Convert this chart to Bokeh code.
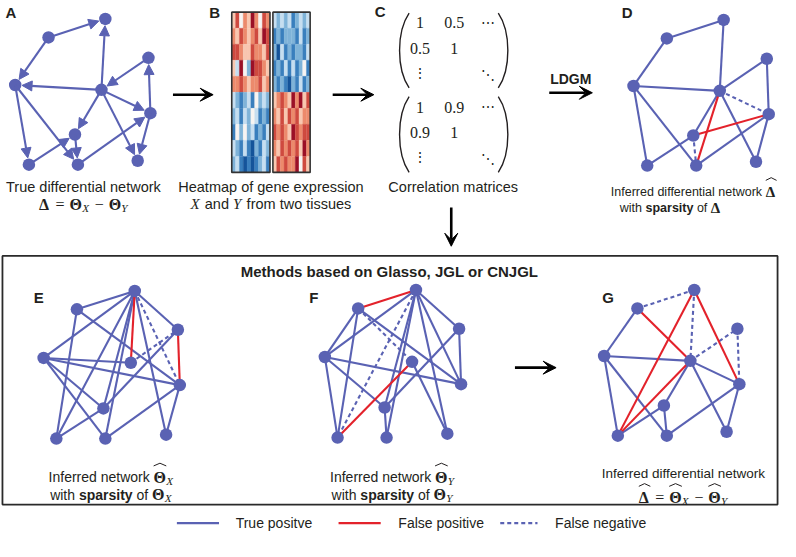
import numpy as np
from bokeh.plotting import figure
from bokeh.models import Range1d, Arrow, NormalHead, VeeHead, ColumnDataSource
from bokeh.core.properties import value
from bokeh.embed import file_html
from bokeh.resources import INLINE

# ------------------------------------------------------------------ data
# node layout shared by panels A, D, G (true network / LDGM / differential)
NET1_X = [107, 49, 15, 103, 151, 153, 76, 29, 79, 140]
NET1_Y = [19, 38, 87, 92, 59, 116, 138, 169, 169, 165]
# node layout shared by panels E, F (single-network estimates)
NET2_X = [137, 78, 44, 133, 181, 183, 105, 57, 107, 169]
NET2_Y = [299, 318, 368, 373, 339, 396, 420, 451, 451, 447]

# panel A: directed edges of the true differential network (from, to)
A_ARCS = [(2, 1), (2, 3), (4, 1), (4, 3), (5, 4), (4, 6), (4, 7), (4, 10),
          (6, 5), (6, 10), (3, 8), (3, 9), (8, 7), (7, 9), (9, 6)]
# panel D: LDGM estimate
D_TP = [(1, 2), (1, 4), (2, 3), (3, 4), (3, 8), (3, 9), (4, 5), (4, 7),
        (4, 10), (5, 6), (6, 9), (6, 10), (7, 8)]
D_FP = [(4, 9), (7, 6)]
D_FN = [(4, 6), (7, 9)]
# panel E: estimate of Theta_X
E_TP = [(1, 2), (1, 3), (1, 5), (1, 7), (1, 8), (1, 9), (1, 10), (2, 6),
        (2, 8), (3, 4), (3, 6), (3, 9), (3, 7), (5, 7), (7, 8), (9, 6), (10, 6)]
E_FP = [(1, 4), (5, 6)]
E_FN = [(1, 6), (4, 5)]
# panel F: estimate of Theta_Y
F_TP = [(1, 3), (1, 5), (1, 6), (1, 7), (1, 9), (1, 10), (2, 3), (2, 6),
        (2, 8), (3, 6), (3, 7), (3, 8), (4, 10), (5, 7), (5, 6), (7, 9)]
F_FP = [(1, 2), (4, 8)]
F_FN = [(1, 8), (2, 4)]
# panel G: difference of the two estimates
G_TP = [(2, 3), (3, 4), (3, 8), (3, 9), (4, 7), (4, 10), (4, 6), (6, 9),
        (6, 10), (7, 8), (7, 9)]
G_FP = [(2, 4), (1, 8), (1, 6), (4, 8)]
G_FN = [(1, 2), (1, 4), (4, 5), (5, 6)]

# panel B: expression heatmaps, 0 = strongly low (blue) ... 8 = strongly high (red)
HEAT_X = ["5746586476", "6576567587", "7765576657", "5384287765", "6676566756",
          "3212314232", "2313243121", "1424231213", "3213102132", "2310101231"]
HEAT_Y = ["3232312323", "1212221312", "2031212213", "1213131241", "2121021312",
          "5676586857", "6575767566", "7676587677", "6576767586", "5767668475"]

# panel C: correlation matrices
MATRIX_X = [["1", "0.5", "\u22ef"], ["0.5", "1", ""], ["\u22ee", "", "\u22f1"]]
MATRIX_Y = [["1", "0.9", "\u22ef"], ["0.9", "1", ""], ["\u22ee", "", "\u22f1"]]

LEGEND_LABELS = ["True positve", "False positive", "False negative"]

# ------------------------------------------------------------------ style
W, H = 780, 541
XMAX, YMAX = 796, 557
SX = W / XMAX
BLUE = "#5a62b3"
RED = "#e3222b"
INK = "#231f20"
SANS = "Liberation Sans"
SERIF = "Liberation Serif"
HEAT_COLORS = ["#15549a", "#3a7fbd", "#7fb3d8", "#c6def0", "#f7f4f2",
               "#f8c7b0", "#ec8a6c", "#cf4a3f", "#9b1027"]

p = figure(width=W, height=H, x_range=Range1d(0, XMAX), y_range=Range1d(YMAX, 0),
           x_axis_type=None, y_axis_type=None, output_backend="svg",
           toolbar_location=None, min_border=0, outline_line_color=None)
p.grid.visible = False
p.background_fill_color = "white"


def pos(layout, offset, i):
    xs, ys = layout
    return xs[i - 1] + offset[0], ys[i - 1] + offset[1]


def draw_edges(layout, offset, pairs, color, dash="solid"):
    if not pairs:
        return
    a = [pos(layout, offset, i) for i, _ in pairs]
    b = [pos(layout, offset, j) for _, j in pairs]
    p.segment([q[0] for q in a], [q[1] for q in a], [q[0] for q in b], [q[1] for q in b],
              line_color=color, line_width=2.1, line_dash=dash)


def draw_nodes(layout, offset):
    xs, ys = layout
    p.scatter([x + offset[0] for x in xs], [y + offset[1] for y in ys], size=12.5,
              fill_color=BLUE, line_color=None)


NET1 = (NET1_X, NET1_Y)
NET2 = (NET2_X, NET2_Y)
OFF_A, OFF_D, OFF_G = (0, 0), (631, 1), (601, 279)
OFF_E, OFF_F = (0, 0), (287, -1)

# panel A: directed arrows
ax0, ay0, ax1, ay1 = [], [], [], []
for i, j in A_ARCS:
    x0, y0 = pos(NET1, OFF_A, i)
    x1, y1 = pos(NET1, OFF_A, j)
    d = np.hypot(x1 - x0, y1 - y0)
    ux, uy = (x1 - x0) / d, (y1 - y0) / d
    ax0.append(x0); ay0.append(y0)
    ax1.append(x1 - ux * 7.0); ay1.append(y1 - uy * 7.0)
asrc = ColumnDataSource(dict(x0=ax0, y0=ay0, x1=ax1, y1=ay1))
p.add_layout(Arrow(end=NormalHead(size=10, fill_color=BLUE, line_color=BLUE, line_width=1),
                   x_start="x0", y_start="y0", x_end="x1", y_end="y1", source=asrc,
                   line_color=BLUE, line_width=2.1))
draw_nodes(NET1, OFF_A)

for layout, off, tp, fp, fn in [(NET1, OFF_D, D_TP, D_FP, D_FN),
                                (NET2, OFF_E, E_TP, E_FP, E_FN),
                                (NET2, OFF_F, F_TP, F_FP, F_FN),
                                (NET1, OFF_G, G_TP, G_FP, G_FN)]:
    draw_edges(layout, off, tp, BLUE)
    draw_edges(layout, off, fn, BLUE, "4 3")
    draw_edges(layout, off, fp, RED)
    draw_nodes(layout, off)

# panel B: heatmaps
def heat(rows, x0, x1, y0, y1):
    nr, nc = len(rows), len(rows[0])
    cw, rh = (x1 - x0) / nc, (y1 - y0) / nr
    L, R, T, B, C = [], [], [], [], []
    for r, row in enumerate(rows):
        for c, ch in enumerate(row):
            L.append(x0 + c * cw); R.append(x0 + (c + 1) * cw)
            T.append(y0 + r * rh); B.append(y0 + (r + 1) * rh)
            C.append(HEAT_COLORS[int(ch)])
    p.quad(left=L, right=R, top=T, bottom=B, fill_color=C, line_color=C, line_width=0.3)
    p.quad(left=[x0], right=[x1], top=[y0], bottom=[y1], fill_color=None,
           line_color="#333333", line_width=1.6)

heat(HEAT_X, 236, 275, 12, 177)
heat(HEAT_Y, 278, 316, 12, 177)

# panel C: matrices
COLS = [428, 463, 498]
for mat, top, bot, rows_y in [(MATRIX_X, 13, 90, [23, 49, 75]), (MATRIX_Y, 99, 177, [110, 136, 161])]:
    nx, ny, nt, dx, dy, dt = [], [], [], [], [], []
    for r, row in enumerate(mat):
        for c, t in enumerate(row):
            if not t:
                continue
            if t[0].isdigit():
                nx.append(COLS[c]); ny.append(rows_y[r]); nt.append(t)
            else:
                dx.append(COLS[c]); dy.append(rows_y[r] + (2 if t == "\u22f1" else 0)); dt.append(t)
    p.text(nx, ny, text=nt, text_font=value(SERIF), text_font_size="16px", text_align="center",
           text_baseline="middle", text_color=INK)
    p.text(dx, dy, text=dt, text_font=value("DejaVu Serif"), text_font_size="14px",
           text_align="center", text_baseline="middle", text_color=INK)
    mid_a, mid_b = top + (bot - top) * 0.25, top + (bot - top) * 0.75
    p.bezier(x0=[417, 508], y0=[top, top], x1=[417, 508], y1=[bot, bot],
             cx0=[404, 521], cy0=[mid_a, mid_a], cx1=[404, 521], cy1=[mid_b, mid_b],
             line_color=INK, line_width=1.4)

# big arrows
for x0, y0, x1, y1 in [(176, 97, 217, 97), (339, 97, 381, 97), (560, 95, 604, 95),
                       (460, 213, 460, 253), (525, 378, 567, 378)]:
    p.add_layout(Arrow(end=VeeHead(size=13, fill_color="black", line_color="black", line_width=1),
                       x_start=x0, y_start=y0, x_end=x1, y_end=y1,
                       line_color="black", line_width=2.6))

# box
p.quad(left=[2], right=[793], top=[263], bottom=[519], fill_color=None,
       line_color="#2a2a2a", line_width=1.8)

# ------------------------------------------------------------------ texts
SANS_R = dict(zip(" abcdefghijklmnopqrstuvwxyz",
                  [278, 556, 556, 500, 556, 556, 278, 556, 556, 222, 222, 500, 222, 833, 556,
                   556, 556, 556, 333, 500, 278, 556, 500, 722, 500, 500, 500]))
SANS_R.update({"I": 278, "T": 611, "H": 722, "C": 722})
SANS_B = dict(zip(" abcdefghijklmnopqrstuvwxyz",
                  [278, 556, 611, 556, 611, 556, 333, 611, 611, 278, 278, 556, 278, 889, 611,
                   611, 611, 611, 389, 556, 333, 611, 556, 778, 556, 556, 500]))
GREEK_W = {"\u0398": 790, "\u0394": 720}
OP_W = {"=": 1180, "\u2212": 1180}
ITAL_W = {"X": 680, "Y": 640}


def sty(kind, size):
    base = {
        "n": dict(font=SANS, style="normal", w=SANS_R, dy=0, center=False),
        "b": dict(font=SANS, style="bold", w=SANS_B, dy=0, center=False),
        "g": dict(font=SERIF, style="bold", w=GREEK_W, dy=0, center=False),
        "gh": dict(font=SERIF, style="bold", w=GREEK_W, dy=0, center=False),
        "op": dict(font=SERIF, style="normal", w=OP_W, dy=0, center=True),
        "it": dict(font=SERIF, style="italic", w=ITAL_W, dy=0, center=False),
        "sub": dict(font=SERIF, style="italic", w=ITAL_W, dy=3.5, center=False),
    }[kind]
    base["size"] = size
    return base


buckets = {}
hat_xs, hat_ys = [], []


def rich(pieces, x, y, size, align="left", msize=16):
    specs, widths = [], []
    for t, k in pieces:
        sz = size if k in ("n", "b") else (msize * 0.7 if k == "sub" else msize)
        s = sty(k, sz)
        specs.append(s)
        widths.append(sum(s["w"].get(ch, 556) for ch in t) / 1000 * sz / SX)
    total = sum(widths)
    if align == "center":
        x -= total / 2
    elif align == "right":
        x -= total
    for (t, k), s, w in zip(pieces, specs, widths):
        lead = len(t) - len(t.lstrip(" "))
        tx = x + lead * s["w"].get(" ", 278) / 1000 * s["size"] / SX
        key = (s["font"], s["style"], s["size"], s["center"])
        b = buckets.setdefault(key, dict(x=[], y=[], t=[]))
        b["x"].append(x + w / 2 if s["center"] else tx)
        b["y"].append(y + s["dy"])
        b["t"].append(t.strip())
        if k == "gh":
            cx, ytop = x + w / 2, y - 11.8
            hat_xs.append([cx - w * 0.5, cx, cx + w * 0.5])
            hat_ys.append([ytop, ytop - 2.8, ytop])
        x += w


D = "\u0394"
TH = "\u0398"
MINUS = "\u2212"
rich([("True differential network", "n")], 85, 192, 14.5, "center")
rich([(D, "g"), ("=", "op"), (TH, "g"), ("X", "sub"), (MINUS, "op"), (TH, "g"), ("Y", "sub")],
     85, 210, 14.5, "center")
rich([("Heatmap of gene expression", "n")], 276, 192, 14.5, "center")
rich([("X", "it"), (" and ", "n"), ("Y", "it"), (" from two tissues", "n")], 276, 210, 14.5,
     "center", msize=15)
rich([("Correlation matrices", "n")], 462, 192, 14.5, "center")
rich([("Inferred differential network ", "n"), (D, "gh")], 792, 197, 12.5, "right", msize=15)
rich([("with ", "n"), ("sparsity", "b"), (" of ", "n"), (D, "g")], 632, 214, 12.5, msize=15)
rich([("Inferred network ", "n"), (TH, "gh"), ("X", "sub")], 113, 491, 14, "center")
rich([("with ", "n"), ("sparsity", "b"), (" of ", "n"), (TH, "g"), ("X", "sub")], 113, 509, 14, "center")
rich([("Inferred network ", "n"), (TH, "gh"), ("Y", "sub")], 400, 491, 14, "center")
rich([("with ", "n"), ("sparsity", "b"), (" of ", "n"), (TH, "g"), ("Y", "sub")], 400, 509, 14, "center")
rich([("Inferred differential network", "n")], 697, 487, 13.5, "center")
rich([(D, "gh"), ("=", "op"), (TH, "gh"), ("X", "sub"), (MINUS, "op"), (TH, "gh"), ("Y", "sub")],
     697, 512, 13.5, "center")

for (font, style, size, center), b in buckets.items():
    p.text(x=b["x"], y=b["y"], text=b["t"], text_font=value(font),
           text_font_size=f"{size:.1f}px", text_font_style=style,
           text_align="center" if center else "left", text_baseline="alphabetic",
           text_color=INK)
p.multi_line(hat_xs, hat_ys, line_color=INK, line_width=1)

# panel letters
p.text(x=[5, 213, 382, 634, 34, 315, 614], y=[12, 12, 11, 12, 306, 306, 306],
       text=["A", "B", "C", "D", "E", "F", "G"], text_font=value(SANS), text_font_size="15px",
       text_font_style="bold", text_baseline="middle", text_align="left", text_color=INK)
p.text(x=[582], y=[81], text=["LDGM"], text_font=value(SANS), text_font_size="14px",
       text_font_style="bold", text_baseline="middle", text_align="center", text_color=INK)
p.text(x=[397], y=[279], text=["Methods based on Glasso, JGL or CNJGL"], text_font=value(SANS),
       text_font_size="15px", text_font_style="bold", text_baseline="middle",
       text_align="center", text_color=INK)

# legend
LEG_X = [180, 345, 510]
LEG_TX = [240, 406, 566]
LEG_Y = 538
p.segment([LEG_X[0], LEG_X[1]], [LEG_Y, LEG_Y], [LEG_X[0] + 43, LEG_X[1] + 43], [LEG_Y, LEG_Y],
          line_color=[BLUE, RED], line_width=2.2)
p.segment([LEG_X[2]], [LEG_Y], [LEG_X[2] + 38], [LEG_Y], line_color=BLUE, line_width=2.2,
          line_dash="4 3")
p.text(x=LEG_TX, y=[LEG_Y] * 3, text=LEGEND_LABELS, text_font=value(SANS),
       text_font_size="14px", text_baseline="middle", text_align="left", text_color=INK)

open("out.html", "w").write(file_html(p, INLINE))
